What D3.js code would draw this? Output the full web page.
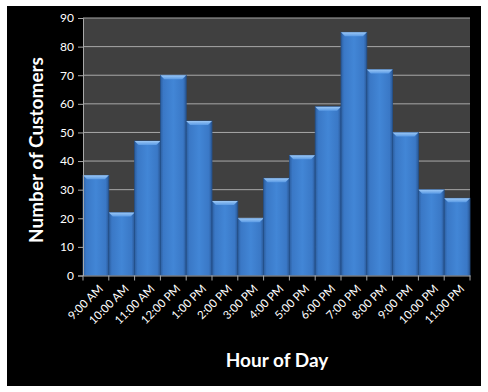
<!DOCTYPE html>
<html><head><meta charset="utf-8">
<script src="https://cdn.jsdelivr.net/npm/d3@7"></script>
<style>html,body{margin:0;padding:0;background:#fff;}svg{display:block;}</style>
</head><body>
<script>
const categories = ["9:00 AM","10:00 AM","11:00 AM","12:00 PM","1:00 PM","2:00 PM","3:00 PM","4:00 PM","5:00 PM","6:00 PM","7:00 PM","8:00 PM","9:00 PM","10:00 PM","11:00 PM"];
const customers = [35,22,47,70,54,26,20,34,42,59,85,72,50,30,27];
const yTicks = [0,10,20,30,40,50,60,70,80,90];
const xTitle = "Hour of Day";
const yTitle = "Number of Customers";

const W = 488, H = 392;
const svg = d3.select("body").append("svg").attr("width", W).attr("height", H);
svg.append("rect").attr("x",7).attr("y",6).attr("width",474).attr("height",380).attr("fill","#000");

const m = {l:83, r:470, t:18, b:275.5};
const x = d3.scaleBand().domain(categories).range([m.l, m.r]).padding(0);
const y = d3.scaleLinear().domain([0,90]).range([m.b, m.t]);

const defs = svg.append("defs");
const g1 = defs.append("linearGradient").attr("id","barg").attr("x1","0").attr("x2","1").attr("y1","0").attr("y2","0");
[[0,"#2c5e9f"],[0.12,"#3a78c6"],[0.5,"#4286d6"],[0.88,"#3a78c6"],[1,"#2a5896"]].forEach(([o,c])=>g1.append("stop").attr("offset",o).attr("stop-color",c));
const g2 = defs.append("linearGradient").attr("id","topg").attr("x1","0").attr("x2","0").attr("y1","0").attr("y2","1");
[[0,"#9cc8f6"],[1,"#5a9ae4"]].forEach(([o,c])=>g2.append("stop").attr("offset",o).attr("stop-color",c));

svg.append("rect").attr("x",m.l).attr("y",m.t).attr("width",m.r-m.l).attr("height",m.b-m.t).attr("fill","#404040");

svg.append("g").selectAll("line").data(yTicks.filter(d=>d>0)).join("line")
  .attr("x1",m.l).attr("x2",m.r).attr("y1",d=>y(d)).attr("y2",d=>y(d))
  .attr("stroke","#a8a8a8").attr("stroke-width",1);

const bars = svg.append("g").selectAll("g").data(categories).join("g");
bars.append("rect")
  .attr("x",d=>x(d)).attr("y",(d,i)=>y(customers[i]))
  .attr("width",x.bandwidth()).attr("height",(d,i)=>m.b-y(customers[i]))
  .attr("fill","url(#barg)").attr("stroke","#24508a").attr("stroke-width",0.8);
bars.append("path")
  .attr("d",(d,i)=>{const x0=x(d), w=x.bandwidth(), y0=y(customers[i]); const b=4;
    return `M${x0},${y0}L${x0+w},${y0}L${x0+w-b},${y0+b}L${x0+b},${y0+b}Z`;})
  .attr("fill","url(#topg)");

const yAxis = svg.append("g").attr("transform",`translate(${m.l},0)`)
  .call(d3.axisLeft(y).tickValues(yTicks).tickSize(5).tickPadding(4).tickFormat(d3.format("d")));
yAxis.select(".domain").attr("stroke","#a8a8a8");
yAxis.selectAll(".tick line").attr("stroke","#a8a8a8");
yAxis.selectAll("text").attr("fill","#fff").style("font-family","Lato, 'Open Sans', sans-serif").style("font-size","12px");

const xAxis = svg.append("g").attr("transform",`translate(0,${m.b})`)
  .call(d3.axisBottom(x).tickSize(0).tickFormat(""));
xAxis.select(".domain").attr("stroke","#a8a8a8");
const bounds = categories.map(c=>x(c)).concat([m.r]);
svg.append("g").selectAll("line").data(bounds).join("line")
  .attr("x1",d=>d).attr("x2",d=>d).attr("y1",m.b).attr("y2",m.b+5).attr("stroke","#a8a8a8");

svg.append("g").selectAll("text").data(categories).join("text")
  .attr("transform",d=>`translate(${x(d)+x.bandwidth()/2+5},${m.b+11}) rotate(-45)`)
  .attr("text-anchor","end").attr("dy","0.35em")
  .attr("fill","#fff").style("font-family","Lato, 'Open Sans', sans-serif").style("font-size","11.5px")
  .text(d=>d);

svg.append("text").attr("x",277).attr("y",367).attr("text-anchor","middle")
  .attr("fill","#fff").style("font-family","Lato, 'Open Sans', sans-serif").style("font-weight","bold").style("font-size","19px")
  .text(xTitle);
svg.append("text").attr("transform",`translate(43,150) rotate(-90)`).attr("text-anchor","middle")
  .attr("fill","#fff").style("font-family","Lato, 'Open Sans', sans-serif").style("font-weight","bold").style("font-size","19px")
  .text(yTitle);
</script>
</body></html>
